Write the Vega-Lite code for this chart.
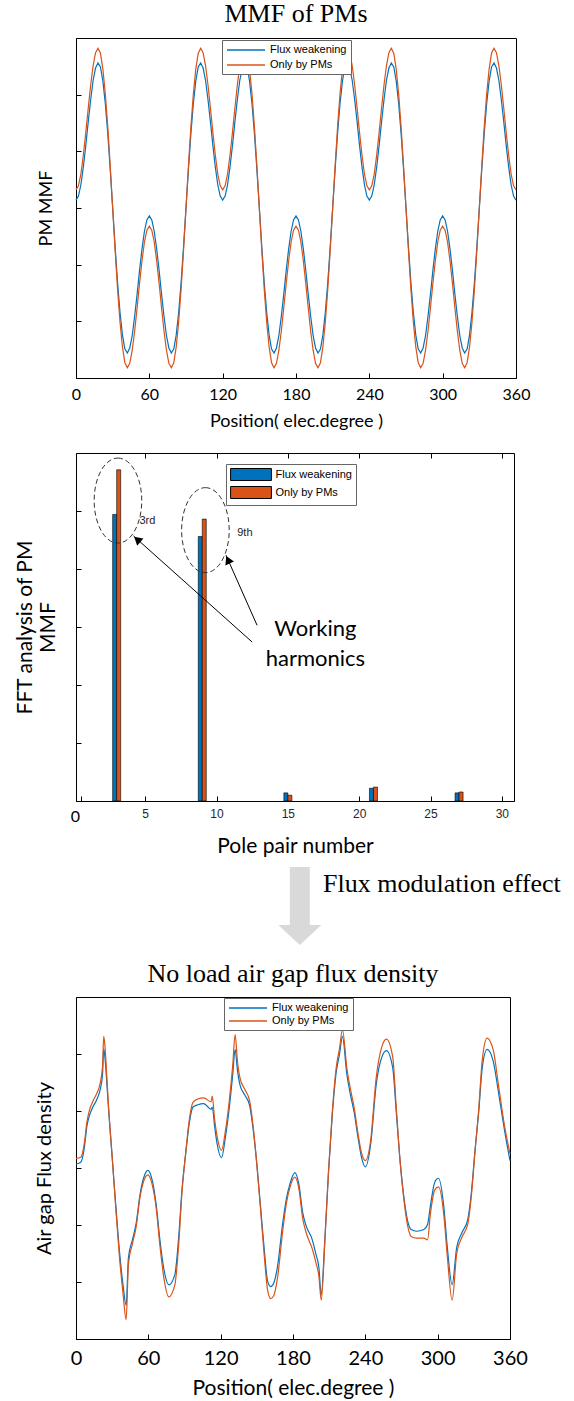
{
  "$schema": "https://vega.github.io/schema/vega-lite/v6.json",
  "background": "#ffffff",
  "padding": {"left": 14, "top": 0, "right": 0, "bottom": 0},
  "bounds": "flush",
  "spacing": 75,
  "resolve": {"scale": {"color": "independent"}, "legend": {"color": "independent"}},
  "config": {
    "view": {"stroke": "#000000", "strokeWidth": 1},
    "axis": {"grid": false, "domainColor": "#000000", "domainWidth": 1, "tickColor": "#000000", "tickWidth": 1, "tickSize": -5, "labelColor": "#000000", "titleColor": "#000000", "labelFont": "Lato", "titleFont": "Lato", "titleFontWeight": "normal", "labelFlush": false, "labelOverlap": false, "labelBound": false},
    "title": {"font": "Liberation Serif", "fontSize": 26, "fontWeight": "normal", "color": "#000000", "anchor": "middle", "frame": "group", "baseline": "alphabetic"},
    "legend": {"labelFont": "Liberation Sans", "labelFontSize": 11, "labelColor": "#000000", "strokeColor": "#666666", "fillColor": "#ffffff", "padding": 4, "labelLimit": 0}
  },
  "datasets": {
    "mmf": [
      {"x":0,"fw":0.14,"pm":0.32},{"x":2,"fw":0.21,"pm":0.39},{"x":4,"fw":0.41,"pm":0.6},{"x":6,"fw":0.72,"pm":0.93},{"x":8,"fw":1.1,"pm":1.33},{"x":10,"fw":1.52,"pm":1.76},{"x":12,"fw":1.91,"pm":2.17},{"x":14,"fw":2.25,"pm":2.51},{"x":16,"fw":2.47,"pm":2.74},{"x":18,"fw":2.56,"pm":2.82},{"x":20,"fw":2.49,"pm":2.73},{"x":22,"fw":2.24,"pm":2.45},{"x":24,"fw":1.84,"pm":2.01},{"x":26,"fw":1.31,"pm":1.43},{"x":28,"fw":0.68,"pm":0.74},{"x":30,"fw":0,"pm":0},{"x":32,"fw":-0.68,"pm":-0.74},{"x":34,"fw":-1.31,"pm":-1.43},{"x":36,"fw":-1.84,"pm":-2.01},{"x":38,"fw":-2.24,"pm":-2.45},{"x":40,"fw":-2.49,"pm":-2.73},{"x":42,"fw":-2.56,"pm":-2.82},{"x":44,"fw":-2.47,"pm":-2.74},{"x":46,"fw":-2.25,"pm":-2.51},{"x":48,"fw":-1.91,"pm":-2.17},{"x":50,"fw":-1.52,"pm":-1.76},{"x":52,"fw":-1.1,"pm":-1.33},{"x":54,"fw":-0.72,"pm":-0.93},{"x":56,"fw":-0.41,"pm":-0.6},{"x":58,"fw":-0.21,"pm":-0.39},
      {"x":60,"fw":-0.14,"pm":-0.32},{"x":62,"fw":-0.21,"pm":-0.39},{"x":64,"fw":-0.41,"pm":-0.6},{"x":66,"fw":-0.72,"pm":-0.93},{"x":68,"fw":-1.1,"pm":-1.33},{"x":70,"fw":-1.52,"pm":-1.76},{"x":72,"fw":-1.91,"pm":-2.17},{"x":74,"fw":-2.25,"pm":-2.51},{"x":76,"fw":-2.47,"pm":-2.74},{"x":78,"fw":-2.56,"pm":-2.82},{"x":80,"fw":-2.49,"pm":-2.73},{"x":82,"fw":-2.24,"pm":-2.45},{"x":84,"fw":-1.84,"pm":-2.01},{"x":86,"fw":-1.31,"pm":-1.43},{"x":88,"fw":-0.68,"pm":-0.74},{"x":90,"fw":0,"pm":0},{"x":92,"fw":0.68,"pm":0.74},{"x":94,"fw":1.31,"pm":1.43},{"x":96,"fw":1.84,"pm":2.01},{"x":98,"fw":2.24,"pm":2.45},{"x":100,"fw":2.49,"pm":2.73},{"x":102,"fw":2.56,"pm":2.82},{"x":104,"fw":2.47,"pm":2.74},{"x":106,"fw":2.25,"pm":2.51},{"x":108,"fw":1.91,"pm":2.17},{"x":110,"fw":1.52,"pm":1.76},{"x":112,"fw":1.1,"pm":1.33},{"x":114,"fw":0.72,"pm":0.93},{"x":116,"fw":0.41,"pm":0.6},{"x":118,"fw":0.21,"pm":0.39},
      {"x":120,"fw":0.14,"pm":0.32},{"x":122,"fw":0.21,"pm":0.39},{"x":124,"fw":0.41,"pm":0.6},{"x":126,"fw":0.72,"pm":0.93},{"x":128,"fw":1.1,"pm":1.33},{"x":130,"fw":1.52,"pm":1.76},{"x":132,"fw":1.91,"pm":2.17},{"x":134,"fw":2.25,"pm":2.51},{"x":136,"fw":2.47,"pm":2.74},{"x":138,"fw":2.56,"pm":2.82},{"x":140,"fw":2.49,"pm":2.73},{"x":142,"fw":2.24,"pm":2.45},{"x":144,"fw":1.84,"pm":2.01},{"x":146,"fw":1.31,"pm":1.43},{"x":148,"fw":0.68,"pm":0.74},{"x":150,"fw":0,"pm":0},{"x":152,"fw":-0.68,"pm":-0.74},{"x":154,"fw":-1.31,"pm":-1.43},{"x":156,"fw":-1.84,"pm":-2.01},{"x":158,"fw":-2.24,"pm":-2.45},{"x":160,"fw":-2.49,"pm":-2.73},{"x":162,"fw":-2.56,"pm":-2.82},{"x":164,"fw":-2.47,"pm":-2.74},{"x":166,"fw":-2.25,"pm":-2.51},{"x":168,"fw":-1.91,"pm":-2.17},{"x":170,"fw":-1.52,"pm":-1.76},{"x":172,"fw":-1.1,"pm":-1.33},{"x":174,"fw":-0.72,"pm":-0.93},{"x":176,"fw":-0.41,"pm":-0.6},{"x":178,"fw":-0.21,"pm":-0.39},
      {"x":180,"fw":-0.14,"pm":-0.32},{"x":182,"fw":-0.21,"pm":-0.39},{"x":184,"fw":-0.41,"pm":-0.6},{"x":186,"fw":-0.72,"pm":-0.93},{"x":188,"fw":-1.1,"pm":-1.33},{"x":190,"fw":-1.52,"pm":-1.76},{"x":192,"fw":-1.91,"pm":-2.17},{"x":194,"fw":-2.25,"pm":-2.51},{"x":196,"fw":-2.47,"pm":-2.74},{"x":198,"fw":-2.56,"pm":-2.82},{"x":200,"fw":-2.49,"pm":-2.73},{"x":202,"fw":-2.24,"pm":-2.45},{"x":204,"fw":-1.84,"pm":-2.01},{"x":206,"fw":-1.31,"pm":-1.43},{"x":208,"fw":-0.68,"pm":-0.74},{"x":210,"fw":0,"pm":0},{"x":212,"fw":0.68,"pm":0.74},{"x":214,"fw":1.31,"pm":1.43},{"x":216,"fw":1.84,"pm":2.01},{"x":218,"fw":2.24,"pm":2.45},{"x":220,"fw":2.49,"pm":2.73},{"x":222,"fw":2.56,"pm":2.82},{"x":224,"fw":2.47,"pm":2.74},{"x":226,"fw":2.25,"pm":2.51},{"x":228,"fw":1.91,"pm":2.17},{"x":230,"fw":1.52,"pm":1.76},{"x":232,"fw":1.1,"pm":1.33},{"x":234,"fw":0.72,"pm":0.93},{"x":236,"fw":0.41,"pm":0.6},{"x":238,"fw":0.21,"pm":0.39},
      {"x":240,"fw":0.14,"pm":0.32},{"x":242,"fw":0.21,"pm":0.39},{"x":244,"fw":0.41,"pm":0.6},{"x":246,"fw":0.72,"pm":0.93},{"x":248,"fw":1.1,"pm":1.33},{"x":250,"fw":1.52,"pm":1.76},{"x":252,"fw":1.91,"pm":2.17},{"x":254,"fw":2.25,"pm":2.51},{"x":256,"fw":2.47,"pm":2.74},{"x":258,"fw":2.56,"pm":2.82},{"x":260,"fw":2.49,"pm":2.73},{"x":262,"fw":2.24,"pm":2.45},{"x":264,"fw":1.84,"pm":2.01},{"x":266,"fw":1.31,"pm":1.43},{"x":268,"fw":0.68,"pm":0.74},{"x":270,"fw":0,"pm":0},{"x":272,"fw":-0.68,"pm":-0.74},{"x":274,"fw":-1.31,"pm":-1.43},{"x":276,"fw":-1.84,"pm":-2.01},{"x":278,"fw":-2.24,"pm":-2.45},{"x":280,"fw":-2.49,"pm":-2.73},{"x":282,"fw":-2.56,"pm":-2.82},{"x":284,"fw":-2.47,"pm":-2.74},{"x":286,"fw":-2.25,"pm":-2.51},{"x":288,"fw":-1.91,"pm":-2.17},{"x":290,"fw":-1.52,"pm":-1.76},{"x":292,"fw":-1.1,"pm":-1.33},{"x":294,"fw":-0.72,"pm":-0.93},{"x":296,"fw":-0.41,"pm":-0.6},{"x":298,"fw":-0.21,"pm":-0.39},
      {"x":300,"fw":-0.14,"pm":-0.32},{"x":302,"fw":-0.21,"pm":-0.39},{"x":304,"fw":-0.41,"pm":-0.6},{"x":306,"fw":-0.72,"pm":-0.93},{"x":308,"fw":-1.1,"pm":-1.33},{"x":310,"fw":-1.52,"pm":-1.76},{"x":312,"fw":-1.91,"pm":-2.17},{"x":314,"fw":-2.25,"pm":-2.51},{"x":316,"fw":-2.47,"pm":-2.74},{"x":318,"fw":-2.56,"pm":-2.82},{"x":320,"fw":-2.49,"pm":-2.73},{"x":322,"fw":-2.24,"pm":-2.45},{"x":324,"fw":-1.84,"pm":-2.01},{"x":326,"fw":-1.31,"pm":-1.43},{"x":328,"fw":-0.68,"pm":-0.74},{"x":330,"fw":0,"pm":0},{"x":332,"fw":0.68,"pm":0.74},{"x":334,"fw":1.31,"pm":1.43},{"x":336,"fw":1.84,"pm":2.01},{"x":338,"fw":2.24,"pm":2.45},{"x":340,"fw":2.49,"pm":2.73},{"x":342,"fw":2.56,"pm":2.82},{"x":344,"fw":2.47,"pm":2.74},{"x":346,"fw":2.25,"pm":2.51},{"x":348,"fw":1.91,"pm":2.17},{"x":350,"fw":1.52,"pm":1.76},{"x":352,"fw":1.1,"pm":1.33},{"x":354,"fw":0.72,"pm":0.93},{"x":356,"fw":0.41,"pm":0.6},{"x":358,"fw":0.21,"pm":0.39},
      {"x":360,"fw":0.14,"pm":0.32}
    ],
    "fft": [
      {"h":3,"s":"fw","v":4.94},{"h":3,"s":"pm","v":5.71},
      {"h":9,"s":"fw","v":4.56},{"h":9,"s":"pm","v":4.86},
      {"h":15,"s":"fw","v":0.14},{"h":15,"s":"pm","v":0.1},
      {"h":21,"s":"fw","v":0.22},{"h":21,"s":"pm","v":0.24},
      {"h":27,"s":"fw","v":0.14},{"h":27,"s":"pm","v":0.155}
    ],
    "flux": [
      {"x":0,"fw":0.07,"pm":0.17},{"x":4,"fw":0.1,"pm":0.19},{"x":7,"fw":0.37,"pm":0.45},{"x":9,"fw":0.73,"pm":0.8},{"x":11,"fw":0.91,"pm":1.0},{"x":14,"fw":1.07,"pm":1.17},{"x":17,"fw":1.19,"pm":1.3},{"x":20,"fw":1.37,"pm":1.48},{"x":22,"fw":1.64,"pm":1.78},{"x":23,"fw":2.09,"pm":2.31},{"x":24,"fw":1.94,"pm":2.15},{"x":25.5,"fw":1.52,"pm":1.62},{"x":27,"fw":1.03,"pm":1.08},{"x":30,"fw":0.19,"pm":0.2},{"x":33,"fw":-0.66,"pm":-0.7},{"x":36,"fw":-1.45,"pm":-1.55},{"x":39,"fw":-2.05,"pm":-2.2},{"x":41.6,"fw":-2.41,"pm":-2.66},{"x":43.5,"fw":-1.57,"pm":-1.68},{"x":46.8,"fw":-1.26,"pm":-1.33},{"x":50,"fw":-0.96,"pm":-1.02},{"x":53,"fw":-0.48,"pm":-0.52},{"x":56,"fw":-0.18,"pm":-0.24},{"x":59.6,"fw":-0.04,"pm":-0.12},{"x":63.5,"fw":-0.24,"pm":-0.32},{"x":66.6,"fw":-0.66,"pm":-0.72},{"x":69.6,"fw":-1.26,"pm":-1.36},{"x":72.7,"fw":-1.75,"pm":-1.9},{"x":77,"fw":-2.05,"pm":-2.26},{"x":82,"fw":-1.87,"pm":-2.05},{"x":85,"fw":-1.26,"pm":-1.4},{"x":88,"fw":-0.36,"pm":-0.4},{"x":91,"fw":0.25,"pm":0.27},{"x":94,"fw":0.79,"pm":0.85},{"x":97,"fw":1.07,"pm":1.15},{"x":101,"fw":1.11,"pm":1.21},{"x":106,"fw":1.13,"pm":1.23},{"x":112,"fw":1.03,"pm":1.16},{"x":113,"fw":1.07,"pm":1.26},{"x":115,"fw":0.73,"pm":0.85},{"x":117,"fw":0.43,"pm":0.56},{"x":120.7,"fw":0.18,"pm":0.31},{"x":124,"fw":0.55,"pm":0.66},{"x":127,"fw":1.03,"pm":1.15},{"x":130,"fw":1.64,"pm":1.8},{"x":132,"fw":2.08,"pm":2.34},{"x":134,"fw":1.7,"pm":1.85},{"x":136,"fw":1.46,"pm":1.58},{"x":140,"fw":1.28,"pm":1.38},{"x":144,"fw":1.1,"pm":1.18},{"x":147,"fw":0.67,"pm":0.72},{"x":150,"fw":0.07,"pm":0.06},{"x":153,"fw":-0.66,"pm":-0.7},{"x":156,"fw":-1.39,"pm":-1.5},{"x":159,"fw":-1.99,"pm":-2.15},{"x":161.5,"fw":-2.08,"pm":-2.29},{"x":164,"fw":-2.02,"pm":-2.24},{"x":167,"fw":-1.75,"pm":-1.95},{"x":171.5,"fw":-0.96,"pm":-1.1},{"x":174.5,"fw":-0.54,"pm":-0.62},{"x":177.6,"fw":-0.27,"pm":-0.33},{"x":181.5,"fw":-0.08,"pm":-0.16},{"x":185,"fw":-0.3,"pm":-0.38},{"x":188,"fw":-0.78,"pm":-0.88},{"x":191,"fw":-1.02,"pm":-1.14},{"x":196,"fw":-1.26,"pm":-1.42},{"x":199,"fw":-1.51,"pm":-1.66},{"x":201.5,"fw":-1.75,"pm":-1.9},{"x":203.4,"fw":-2.23,"pm":-2.32},{"x":206.4,"fw":-1.26,"pm":-1.3},{"x":209.5,"fw":-0.05,"pm":-0.05},{"x":212.5,"fw":0.91,"pm":0.95},{"x":215.6,"fw":1.64,"pm":1.72},{"x":218.6,"fw":2.0,"pm":2.1},{"x":221,"fw":2.31,"pm":2.43},{"x":224.7,"fw":1.64,"pm":1.75},{"x":227.7,"fw":1.28,"pm":1.38},{"x":230.8,"fw":0.97,"pm":1.05},{"x":233.8,"fw":0.55,"pm":0.62},{"x":236.8,"fw":0.19,"pm":0.27},{"x":240,"fw":0.02,"pm":0.13},{"x":244.5,"fw":0.43,"pm":0.5},{"x":249,"fw":1.46,"pm":1.58},{"x":253.6,"fw":1.94,"pm":2.12},{"x":257.5,"fw":2.06,"pm":2.26},{"x":262.7,"fw":1.76,"pm":1.95},{"x":265.7,"fw":0.97,"pm":1.05},{"x":268.8,"fw":0.13,"pm":0.13},{"x":271.8,"fw":-0.48,"pm":-0.52},{"x":274.8,"fw":-0.9,"pm":-0.98},{"x":278,"fw":-1.08,"pm":-1.2},{"x":282.5,"fw":-1.11,"pm":-1.23},{"x":288.5,"fw":-1.08,"pm":-1.23},{"x":291.6,"fw":-0.99,"pm":-1.26},{"x":294,"fw":-0.66,"pm":-0.8},{"x":297.7,"fw":-0.24,"pm":-0.38},{"x":300.7,"fw":-0.18,"pm":-0.33},{"x":305,"fw":-0.66,"pm":-0.8},{"x":308,"fw":-1.39,"pm":-1.55},{"x":312,"fw":-2.05,"pm":-2.32},{"x":315.8,"fw":-1.39,"pm":-1.5},{"x":320,"fw":-1.14,"pm":-1.22},{"x":325,"fw":-0.9,"pm":-0.98},{"x":328,"fw":-0.42,"pm":-0.48},{"x":331,"fw":0.31,"pm":0.3},{"x":334,"fw":0.97,"pm":1.02},{"x":337,"fw":1.76,"pm":1.9},{"x":341,"fw":2.08,"pm":2.28},{"x":346,"fw":1.88,"pm":2.08},{"x":350.8,"fw":1.28,"pm":1.4},{"x":355.4,"fw":0.67,"pm":0.75},{"x":360,"fw":0.13,"pm":0.25}
    ]
  },
  "vconcat": [
    {
      "width": 440, "height": 340,
      "title": {"text": "MMF of PMs", "offset": 11},
      "data": {"name": "mmf"},
      "transform": [{"fold": ["fw", "pm"], "as": ["series", "value"]}],
      "mark": {"type": "line", "strokeWidth": 1.2},
      "encoding": {
        "x": {"field": "x", "type": "quantitative", "scale": {"domain": [0, 360], "nice": false, "zero": false},
          "axis": {"values": [0, 60, 120, 180, 240, 300, 360], "title": "Position( elec.degree )", "labelFontSize": 16, "labelPadding": 13, "titleFontSize": 18, "titlePadding": 10}},
        "y": {"field": "value", "type": "quantitative", "scale": {"domain": [-3, 3], "nice": false},
          "axis": {"values": [-2, -1, 0, 1, 2], "labels": false, "title": "PM MMF", "titleFontSize": 18, "titlePadding": 20}},
        "color": {"field": "series", "type": "nominal", "scale": {"domain": ["fw", "pm"], "range": ["#0072BD", "#D95319"]},
          "legend": {"title": null, "orient": "none", "legendX": 146, "legendY": 2, "symbolType": "M-3.8,0L3.8,0", "symbolSize": 100, "symbolStrokeWidth": 1.5, "symbolOffset": 14, "labelOffset": 18, "rowPadding": 4, "labelExpr": "datum.value == 'fw' ? 'Flux weakening' : 'Only by PMs'"}}
      }
    },
    {
      "width": 438, "height": 348,
      "resolve": {"axis": {"x": "independent", "y": "independent"}},
      "layer": [
        {
          "data": {"name": "fft"},
          "mark": {"type": "bar", "width": 4, "xOffset": {"expr": "datum.s == 'fw' ? -2 : 2"}, "stroke": "#000000", "strokeWidth": 0.6},
          "encoding": {
            "x": {"field": "h", "type": "quantitative", "scale": {"domain": [0.5, 30.5], "nice": false, "zero": false},
              "axis": {"values": [0.5, 5, 10, 15, 20, 25, 30], "labelExpr": "datum.value == 0.5 ? '0' : datum.label",
                "labelFont": {"condition": {"test": "datum.value == 0.5", "value": "Lato"}, "value": "Liberation Sans"},
                "labelFontSize": {"condition": {"test": "datum.value == 0.5", "value": 16}, "value": 12},
                "labelColor": {"condition": {"test": "datum.value == 0.5", "value": "#000000"}, "value": "#262626"},
                "labelOffset": {"condition": {"test": "datum.value == 0.5", "value": -6}, "value": 0},
                "labelPadding": 12, "title": "Pole pair number", "titleFontSize": 21, "titlePadding": 11}},
            "y": {"field": "v", "type": "quantitative", "stack": null, "scale": {"domain": [0, 6], "nice": false},
              "axis": {"values": [1, 2, 3, 4, 5], "labels": false, "title": ["FFT analysis of PM", "MMF"], "titleFontSize": 21, "titleLineHeight": 23, "titlePadding": 17}},
            "color": {"field": "s", "type": "nominal", "scale": {"domain": ["fw", "pm"], "range": ["#0072BD", "#D95319"]},
              "legend": {"title": null, "orient": "none", "legendX": 150, "legendY": 11, "symbolType": "M-3.4,-1L3.4,-1L3.4,1L-3.4,1Z", "symbolSize": 144, "symbolStrokeColor": "#000000", "symbolStrokeWidth": 1, "symbolOffset": 14.5, "labelOffset": 18, "rowPadding": 1, "labelExpr": "datum.value == 'fw' ? 'Flux weakening' : 'Only by PMs'"}}
          }
        },
        {
          "data": {"values": [{"h": 3.09, "v": 5.18}, {"h": 9.22, "v": 4.67}]},
          "mark": {"type": "point", "shape": "M0,-1A0.56,1 0 1 1 0,1A0.56,1 0 1 1 0,-1Z", "size": 7225, "filled": false, "stroke": "#333333", "strokeWidth": 1, "strokeDash": [5, 3], "opacity": 1},
          "encoding": {"x": {"field": "h", "type": "quantitative", "axis": {"orient": "top", "values": [5, 10, 15, 20, 25, 30], "labels": false, "title": null, "domain": false}}, "y": {"field": "v", "type": "quantitative", "axis": null}}
        },
        {
          "data": {"values": [{"h": 12.5, "v": 2.74, "h2": 4.18, "v2": 4.57}, {"h": 12.84, "v": 3.03, "h2": 10.66, "v2": 4.24}]},
          "mark": {"type": "rule", "color": "#000000", "strokeWidth": 1},
          "encoding": {"x": {"field": "h", "type": "quantitative", "axis": null}, "y": {"field": "v", "type": "quantitative", "axis": null}, "x2": {"field": "h2"}, "y2": {"field": "v2"}}
        },
        {
          "data": {"values": [{"h": 4.44, "v": 4.51}]},
          "mark": {"type": "point", "shape": "triangle-up", "size": 90, "filled": true, "color": "#000000", "opacity": 1, "angle": 311},
          "encoding": {"x": {"field": "h", "type": "quantitative", "axis": null}, "y": {"field": "v", "type": "quantitative", "axis": null}}
        },
        {
          "data": {"values": [{"h": 10.8, "v": 4.16}]},
          "mark": {"type": "point", "shape": "triangle-up", "size": 90, "filled": true, "color": "#000000", "opacity": 1, "angle": 335},
          "encoding": {"x": {"field": "h", "type": "quantitative", "axis": null}, "y": {"field": "v", "type": "quantitative", "axis": null}}
        },
        {
          "data": {"values": [{"h": 4.6, "v": 4.83, "t": "3rd"}, {"h": 11.45, "v": 4.62, "t": "9th"}]},
          "mark": {"type": "text", "align": "left", "baseline": "middle", "font": "Liberation Sans", "fontSize": 11, "color": "#222222"},
          "encoding": {"x": {"field": "h", "type": "quantitative", "axis": null}, "y": {"field": "v", "type": "quantitative", "axis": null}, "text": {"field": "t"}}
        },
        {
          "data": {"values": [{"h": 16.93, "v": 2.97, "t": "Working"}, {"h": 16.93, "v": 2.45, "t": "harmonics"}]},
          "mark": {"type": "text", "align": "center", "baseline": "middle", "font": "Lato", "fontSize": 22, "color": "#000000"},
          "encoding": {"x": {"field": "h", "type": "quantitative", "axis": null}, "y": {"field": "v", "type": "quantitative", "axis": null}, "text": {"field": "t"}}
        }
      ]
    },
    {
      "width": 438, "height": 46,
      "view": {"stroke": null},
      "layer": [
        {
          "data": {"values": [{"px": 0.511, "py": 0.348}]},
          "mark": {"type": "point", "shape": "M-0.256,-1L0.256,-1L0.256,0.487L0.551,0.487L0,1L-0.551,0.487L-0.256,0.487Z", "size": 6084, "filled": true, "color": "#d9d9d9", "opacity": 1, "strokeWidth": 0},
          "encoding": {"x": {"field": "px", "type": "quantitative", "scale": {"domain": [0, 1]}, "axis": null}, "y": {"field": "py", "type": "quantitative", "scale": {"domain": [0, 1]}, "axis": null}}
        },
        {
          "data": {"values": [{"px": 0.564, "py": 0.652, "t": "Flux modulation effect"}]},
          "mark": {"type": "text", "align": "left", "baseline": "alphabetic", "font": "Liberation Serif", "fontSize": 26, "color": "#000000"},
          "encoding": {"x": {"field": "px", "type": "quantitative", "axis": null}, "y": {"field": "py", "type": "quantitative", "axis": null}, "text": {"field": "t"}}
        }
      ]
    },
    {
      "width": 434, "height": 342,
      "title": {"text": "No load air gap flux density", "offset": 10},
      "data": {"name": "flux"},
      "transform": [{"fold": ["fw", "pm"], "as": ["series", "value"]}],
      "mark": {"type": "line", "strokeWidth": 1.2, "interpolate": "monotone"},
      "encoding": {
        "x": {"field": "x", "type": "quantitative", "scale": {"domain": [0, 360], "nice": false, "zero": false},
          "axis": {"values": [0, 60, 120, 180, 240, 300, 360], "title": "Position( elec.degree )", "labelFontSize": 20, "labelPadding": 14, "titleFontSize": 21, "titlePadding": 9}},
        "y": {"field": "value", "type": "quantitative", "scale": {"domain": [-3, 3], "nice": false},
          "axis": {"values": [-2, -1, 0, 1, 2], "labels": false, "title": "Air gap Flux density", "titleFontSize": 20, "titlePadding": 21}},
        "color": {"field": "series", "type": "nominal", "scale": {"domain": ["fw", "pm"], "range": ["#0072BD", "#D95319"]},
          "legend": {"title": null, "orient": "none", "legendX": 148, "legendY": 1, "symbolType": "M-3.8,0L3.8,0", "symbolSize": 100, "symbolStrokeWidth": 1.5, "symbolOffset": 14, "labelOffset": 18, "rowPadding": 2, "labelExpr": "datum.value == 'fw' ? 'Flux weakening' : 'Only by PMs'"}}
      }
    }
  ]
}
